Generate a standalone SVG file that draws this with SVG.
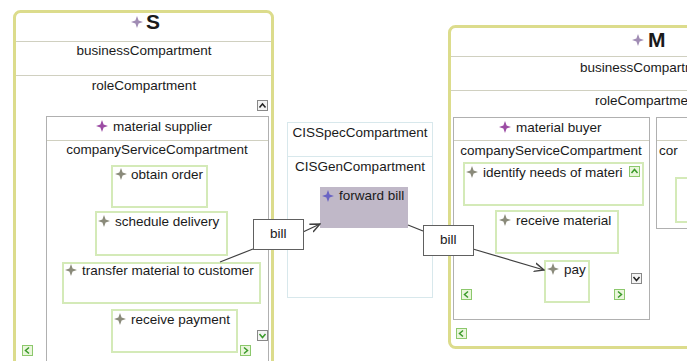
<svg xmlns="http://www.w3.org/2000/svg" width="687" height="361" viewBox="0 0 687 361">
  <style>
    text { font-family: "Liberation Sans", Arial, sans-serif; fill: #1a1a1a; }
    .lbl { font-size: 13.5px; }
    .title { font-size: 21px; font-weight: bold; }
    .outer { fill: #fff; stroke: #dcdc8c; stroke-width: 3; }
    .sep { stroke: #d0d0c0; stroke-width: 1; fill: none; }
    .role { fill: #fff; stroke: #b0b0b0; stroke-width: 1; }
    .task { fill: #fff; stroke: #d4eab8; stroke-width: 2; }
    .cis { fill: #fff; stroke: #d8e8ec; stroke-width: 1; }
    .edge { stroke: #404040; stroke-width: 1.2; fill: none; }
    .elabel { fill: #fff; stroke: #606060; stroke-width: 1; }
    .btn { fill: #f4f4f4; stroke: #888; stroke-width: 1; }
    .gbtn { fill: #eaf6dc; stroke: #8cc86c; stroke-width: 1; }
    .chev { fill: none; stroke: #222; stroke-width: 1.5; }
    .gchev { fill: none; stroke: #3a9a2a; stroke-width: 1.5; }
  </style>
  <defs>
    <path id="star" d="M0,-6 L1.6,-1.6 L6,0 L1.6,1.6 L0,6 L-1.6,1.6 L-6,0 L-1.6,-1.6 Z"/>
    <marker id="arrow" viewBox="0 0 10 10" refX="9" refY="5" markerWidth="9" markerHeight="9" orient="auto">
      <path d="M0,1 L9,5 L0,9" fill="none" stroke="#404040" stroke-width="1.3"/>
    </marker>
  </defs>

  <!-- participant S -->
  <g id="S">
    <rect class="outer" x="14.5" y="11.5" width="258" height="360" rx="6"/>
    <use href="#star" x="137" y="22" fill="#a08cb4"/>
    <text class="title" x="146" y="29">S</text>
    <line class="sep" x1="16" y1="41.5" x2="271" y2="41.5"/>
    <text class="lbl" x="144" y="55" text-anchor="middle">businessCompartment</text>
    <line class="sep" x1="16" y1="75.5" x2="271" y2="75.5"/>
    <text class="lbl" x="144" y="90" text-anchor="middle">roleCompartment</text>
    <rect class="btn" x="257.5" y="100.5" width="10" height="10"/>
    <path class="chev" d="M259.5,107.5 L262.5,104 L265.5,107.5"/>
    <rect class="gbtn" x="22.5" y="345.5" width="10" height="10"/>
    <path class="gchev" d="M29,347.5 L25.5,350.5 L29,353.5"/>
  </g>

  <g id="material-supplier">
    <rect class="role" x="46.5" y="116.5" width="222" height="246"/>
    <use href="#star" x="102" y="126" fill="#9c4ca4"/>
    <text class="lbl" x="113" y="131">material supplier</text>
    <line class="sep" x1="47" y1="140.5" x2="268" y2="140.5"/>
    <text class="lbl" x="157" y="154" text-anchor="middle">companyServiceCompartment</text>
    <rect class="btn" x="257.5" y="330.5" width="10" height="10"/>
    <path class="gchev" d="M259.5,334 L262.5,337.5 L265.5,334"/>
    <rect class="gbtn" x="240.5" y="345.5" width="10" height="10"/>
    <path class="gchev" d="M244,347.5 L247.5,350.5 L244,353.5"/>
  </g>

  <g id="obtain-order">
    <rect class="task" x="112" y="166" width="95" height="41"/>
    <use href="#star" x="121" y="174" fill="#8a8a7a"/>
    <text class="lbl" x="131" y="179">obtain order</text>
  </g>
  <g id="schedule-delivery">
    <rect class="task" x="96" y="212" width="131" height="43"/>
    <use href="#star" x="104" y="221" fill="#8a8a7a"/>
    <text class="lbl" x="115" y="226">schedule delivery</text>
  </g>
  <g id="transfer-material">
    <rect class="task" x="63" y="263" width="197" height="40"/>
    <use href="#star" x="71" y="270" fill="#8a8a7a"/>
    <text class="lbl" x="82" y="275">transfer material to customer</text>
  </g>
  <g id="receive-payment">
    <rect class="task" x="112" y="310" width="125" height="42"/>
    <use href="#star" x="120" y="319" fill="#8a8a7a"/>
    <text class="lbl" x="131" y="324">receive payment</text>
  </g>

  <!-- CIS -->
  <g id="CIS">
    <rect class="cis" x="287.5" y="122.5" width="145" height="175"/>
    <text class="lbl" x="360" y="137" text-anchor="middle">CISSpecCompartment</text>
    <line x1="288" y1="156.5" x2="432" y2="156.5" stroke="#d8e8ec"/>
    <text class="lbl" x="360" y="171" text-anchor="middle">CISGenCompartment</text>
  </g>
  <g id="forward-bill">
    <rect x="320" y="187" width="88" height="41" fill="#c0b8c8"/>
    <use href="#star" x="328" y="196" fill="#6a64c4"/>
    <text class="lbl" x="339" y="200">forward bill</text>
  </g>

  <!-- participant M -->
  <g id="M">
    <rect class="outer" x="449.5" y="26.5" width="260" height="321" rx="6"/>
    <use href="#star" x="638" y="40" fill="#a08cb4"/>
    <text class="title" x="648" y="47">M</text>
    <line class="sep" x1="451" y1="56.5" x2="687" y2="56.5"/>
    <text class="lbl" x="580" y="72">businessCompartment</text>
    <line class="sep" x1="451" y1="90.5" x2="687" y2="90.5"/>
    <text class="lbl" x="595" y="105">roleCompartment</text>
    <rect class="gbtn" x="456.5" y="328.5" width="10" height="10"/>
    <path class="gchev" d="M463,330.5 L459.5,333.5 L463,336.5"/>
  </g>

  <g id="material-buyer">
    <rect class="role" x="453.5" y="117.5" width="196" height="202"/>
    <use href="#star" x="505" y="127" fill="#9c4ca4"/>
    <text class="lbl" x="516" y="132">material buyer</text>
    <line class="sep" x1="454" y1="140.5" x2="649" y2="140.5"/>
    <text class="lbl" x="551" y="155" text-anchor="middle">companyServiceCompartment</text>
    <rect class="btn" x="631.5" y="273.5" width="10" height="10"/>
    <path class="chev" d="M633.5,277 L636.5,280.5 L639.5,277"/>
    <rect class="gbtn" x="461.5" y="289.5" width="10" height="10"/>
    <path class="gchev" d="M468,291.5 L464.5,294.5 L468,297.5"/>
    <rect class="gbtn" x="614.5" y="289.5" width="10" height="10"/>
    <path class="gchev" d="M618,291.5 L621.5,294.5 L618,297.5"/>
  </g>

  <g id="second-role">
    <rect class="role" x="656.5" y="117.5" width="40" height="111"/>
    <line class="sep" x1="657" y1="140.5" x2="687" y2="140.5"/>
    <text class="lbl" x="659" y="155">cor</text>
    <rect class="task" x="676" y="178" width="20" height="44"/>
  </g>

  <g id="identify-needs">
    <rect class="task" x="464" y="163" width="179" height="42"/>
    <use href="#star" x="472" y="172" fill="#8a8a7a"/>
    <text class="lbl" x="483" y="177">identify needs of materi</text>
    <rect class="gbtn" x="629.5" y="166.5" width="10" height="10"/>
    <path class="gchev" d="M631.5,173 L634.5,169.5 L637.5,173"/>
  </g>
  <g id="receive-material">
    <rect class="task" x="496" y="211" width="122" height="42"/>
    <use href="#star" x="505" y="220" fill="#8a8a7a"/>
    <text class="lbl" x="516" y="225">receive material</text>
  </g>
  <g id="pay">
    <rect class="task" x="545" y="261" width="44" height="41"/>
    <use href="#star" x="553" y="269" fill="#8a8a7a"/>
    <text class="lbl" x="564" y="274">pay</text>
  </g>

  <!-- message flows -->
  <g id="connectors">
    <path class="edge" d="M220,262 L253,249"/>
    <path class="edge" d="M303,232 L320,224" marker-end="url(#arrow)"/>
    <path class="edge" d="M408,225 L423,231"/>
    <path class="edge" d="M473,249 L544,270" marker-end="url(#arrow)"/>
    <g id="bill-1">
      <rect class="elabel" x="253.5" y="219.5" width="50" height="30"/>
      <text class="lbl" x="270" y="238">bill</text>
    </g>
    <g id="bill-2">
      <rect class="elabel" x="423.5" y="225.5" width="50" height="30"/>
      <text class="lbl" x="440" y="244">bill</text>
    </g>
  </g>
</svg>
